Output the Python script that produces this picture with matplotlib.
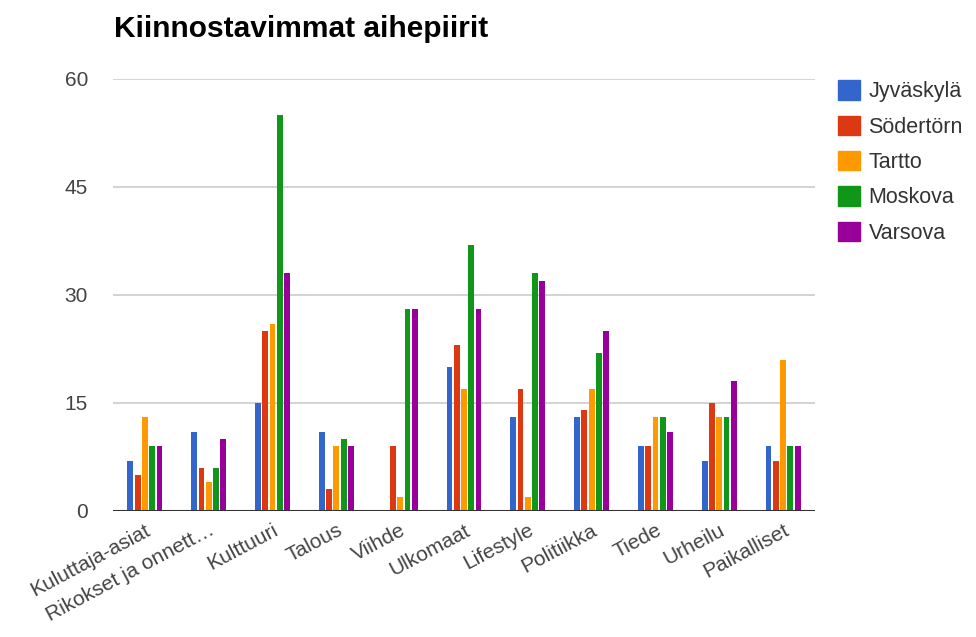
import matplotlib.pyplot as plt
import numpy as np
from matplotlib.patches import Patch

categories = ["Kuluttaja-asiat", "Rikokset ja onnett\u2026", "Kulttuuri", "Talous",
              "Viihde", "Ulkomaat", "Lifestyle", "Politiikka", "Tiede",
              "Urheilu", "Paikalliset"]
series_names = ["Jyväskylä", "Södertörn", "Tartto", "Moskova", "Varsova"]
jyvaskyla = [7, 11, 15, 11, 0, 20, 13, 13, 9, 7, 9]
sodertorn = [5, 6, 25, 3, 9, 23, 17, 14, 9, 15, 7]
tartto = [13, 4, 26, 9, 2, 17, 2, 17, 13, 13, 21]
moskova = [9, 6, 55, 10, 28, 37, 33, 22, 13, 13, 9]
varsova = [9, 10, 33, 9, 28, 28, 32, 25, 11, 18, 9]
yticks = [0, 15, 30, 45, 60]

colors = ["#3366cc", "#dc3912", "#ff9900", "#109618", "#990099"]
series = [jyvaskyla, sodertorn, tartto, moskova, varsova]

plt.rcParams['font.family'] = ['Liberation Sans', 'DejaVu Sans']
fig = plt.figure(figsize=(9.76, 6.37), dpi=100)
# axes area in figure fractions (pixels: x 113..815, y 79..511)
ax = fig.add_axes([113 / 976, 1 - 511 / 637, 702 / 976, 432 / 637])

x = np.arange(len(categories))
pitch = 0.114
width = 0.09
for i, (vals, col) in enumerate(zip(series, colors)):
    ax.bar(x + (i - 2) * pitch, vals, width=width, color=col, zorder=3)

ax.set_xlim(-0.5, len(categories) - 0.5)
ax.set_ylim(0, 60)
ax.set_yticks(yticks)
ax.yaxis.grid(True, color="#cccccc", linewidth=1.2, zorder=0)
ax.axhline(0, color="#333333", linewidth=1.5, zorder=4)
for s in ax.spines.values():
    s.set_visible(False)
ax.tick_params(axis='both', length=0, labelsize=15, labelcolor="#444444")
ax.tick_params(axis='y', pad=18)
ax.set_xticks(x)
ax.set_xticklabels(categories, rotation=28, ha='right', rotation_mode='anchor')
ax.tick_params(axis='x', pad=7)

fig.text(114 / 976, 1 - 37 / 637, "Kiinnostavimmat aihepiirit",
         fontsize=21.5, fontweight='bold', color="black", va='baseline')

handles = [Patch(facecolor=c, edgecolor=c) for c in colors]
fig.legend(handles, series_names, loc='upper left',
           bbox_to_anchor=(819 / 976, 1 - 61 / 637), frameon=False,
           fontsize=15.5, labelcolor="#333333", handlelength=1.0, handleheight=1.0,
           handletextpad=0.4, labelspacing=0.62)

plt.savefig("out.png", dpi=100)
